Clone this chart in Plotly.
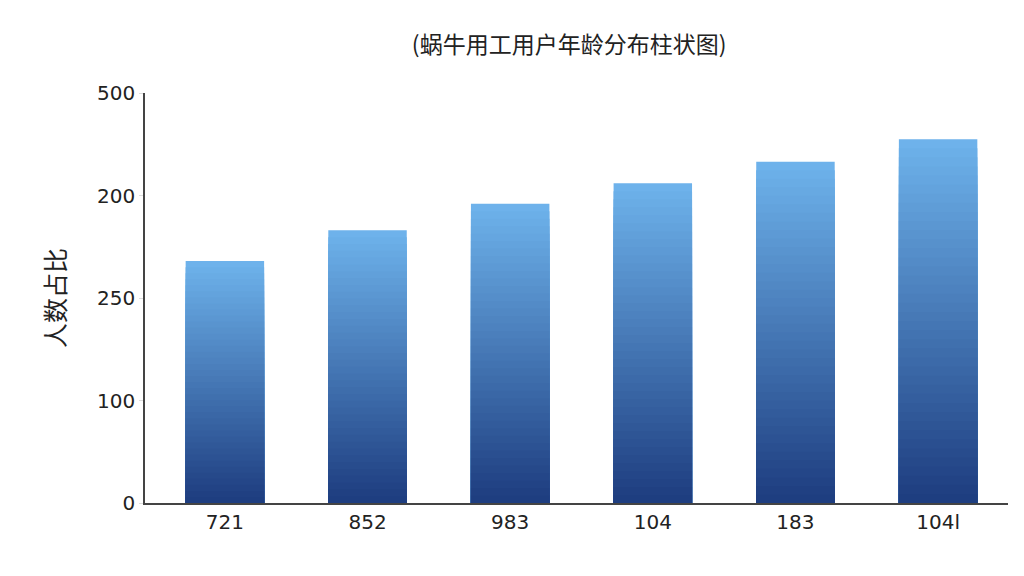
import plotly.graph_objects as go

# category labels as shown (two are identical, so plot on numeric positions)
labels = ['721', '852', '983', '104', '183', '104l']
positions = [0, 1, 2, 3, 4, 5]
values = [236, 266, 292, 312, 333, 355]

tick_vals = [0, 100, 200, 300, 400]
tick_text = ['0', '100', '250', '200', '500']

fig = go.Figure()

# fake a vertical gradient: overlay progressively shorter, darker bars
steps = 40
top_rgb = (110, 178, 235)
bot_rgb = (30, 62, 128)
for k in range(steps):
    frac = 1 - k / steps
    t = k / (steps - 1)
    c = tuple(int(top_rgb[i] + (bot_rgb[i] - top_rgb[i]) * t) for i in range(3))
    fig.add_trace(go.Bar(x=positions, y=[v * frac for v in values], width=0.55,
                         marker=dict(color='rgb(%d,%d,%d)' % c, line=dict(width=0)),
                         hoverinfo='skip', showlegend=False))

fig.update_layout(
    barmode='overlay',
    width=1024, height=576,
    margin=dict(l=137, r=24, t=85, b=81, autoexpand=False),
    plot_bgcolor='white', paper_bgcolor='white',
    font=dict(family='DejaVu Sans, Noto Sans CJK SC', color='#222'),
    title=dict(text='(蜗牛用工用户年龄分布柱状图)', x=0.548, y=0.935, xanchor='center',
               yanchor='middle', font=dict(family='Noto Sans CJK SC', size=23, color='#222')),
)
fig.update_xaxes(tickvals=positions, ticktext=labels, range=[-0.56, 5.49],
                 showline=True, linecolor='#444', linewidth=1.5, ticks='',
                 tickfont=dict(size=20), showgrid=False, automargin=False)
fig.update_yaxes(tickvals=tick_vals, ticktext=tick_text, range=[0, 400],
                 showline=True, linecolor='#444', linewidth=1.5, ticks='outside',
                 ticklen=4, tickcolor='#ddd', tickfont=dict(size=20), showgrid=False,
                 zeroline=False, automargin=False,
                 title=dict(text='人数占比', font=dict(family='Noto Sans CJK SC', size=25),
                            standoff=24))

fig.write_html("out.html")
